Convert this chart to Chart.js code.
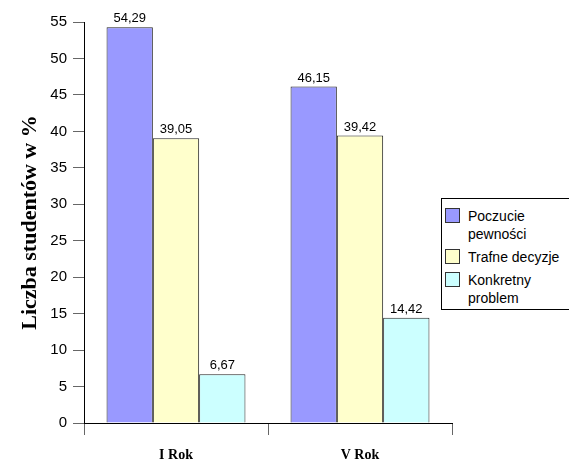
<!DOCTYPE html>
<html>
<head>
<meta charset="utf-8">
<script src="https://cdn.jsdelivr.net/npm/chart.js@4"></script>
<style>
  html, body { margin: 0; padding: 0; background: #fff; }
  #wrap { position: relative; width: 569px; height: 464px; overflow: hidden; }
  #legend {
    position: absolute; left: 441px; top: 198px; width: 140px; height: 112px;
    border: 1px solid #000; background: #fff; box-sizing: border-box;
    font: 14px 'Liberation Sans', Arial, sans-serif; color: #000;
  }
  .item { position: absolute; left: 26px; line-height: 18px; }
  .sw { position: absolute; left: -23px; top: 1px; width: 15px; height: 15px; border: 1px solid #333; box-sizing: border-box; }
</style>
</head>
<body>
<div id="wrap">
  <canvas id="chart" width="569" height="464"></canvas>
  <div id="legend"></div>
</div>
<script>
const CATEGORIES = ['I Rok', 'V Rok'];
const SERIES_NAMES = [['Poczucie', 'pewności'], ['Trafne decyzje'], ['Konkretny', 'problem']];
const POCZUCIE  = [54.29, 46.15];
const TRAFNE    = [39.05, 39.42];
const KONKRETNY = [6.67, 14.42];
const COLORS = ['#9999FF', '#FFFFCC', '#CCFFFF'];
const Y_TITLE = 'Liczba studentów w %';

const valueLabels = {
  id: 'valueLabels',
  afterDatasetsDraw(chart) {
    const ctx = chart.ctx;
    ctx.save();
    ctx.font = "13px 'Liberation Sans', Arial, sans-serif";
    ctx.fillStyle = '#000';
    ctx.textAlign = 'center';
    ctx.textBaseline = 'bottom';
    chart.data.datasets.forEach((ds, i) => {
      chart.getDatasetMeta(i).data.forEach((bar, j) => {
        ctx.fillText(ds.data[j].toFixed(2).replace('.', ','), bar.x, bar.y - 2);
      });
    });
    ctx.restore();
  }
};

const datasets = [POCZUCIE, TRAFNE, KONKRETNY].map((d, i) => ({
  label: SERIES_NAMES[i].join(' '),
  data: d,
  backgroundColor: COLORS[i],
  borderColor: '#222',
  borderWidth: 1,
  categoryPercentage: 0.755,
  barPercentage: 1.0,
}));

new Chart(document.getElementById('chart'), {
  type: 'bar',
  data: { labels: CATEGORIES, datasets },
  options: {
    responsive: false,
    animation: false,
    layout: { padding: { top: 22, right: 117, left: 0, bottom: 0 } },
    plugins: { legend: { display: false }, tooltip: { enabled: false } },
    scales: {
      x: {
        grid: {
          drawOnChartArea: false, tickLength: 12,
          color: c => c.index === 2 ? 'rgba(0,0,0,0)' : '#666',
        },
        border: { color: '#000', width: 1 },
        ticks: { color: '#000', padding: 12, font: { family: "'Liberation Serif', 'Times New Roman', serif", size: 14, weight: 'bold' } },
        afterFit: s => { s.height = 41; },
      },
      y: {
        min: 0, max: 55,
        ticks: { stepSize: 5, color: '#000', padding: 6, font: { family: "'Liberation Sans', Arial, sans-serif", size: 15 } },
        grid: { drawOnChartArea: false, tickLength: 11, color: '#666' },
        border: { color: '#000', width: 1 },
        title: {
          display: true, text: Y_TITLE, color: '#000',
          padding: { top: 17, bottom: 0 },
          font: { family: "'Liberation Serif', 'Times New Roman', serif", size: 22, weight: 'bold' },
        },
        afterFit: s => { s.width = 84; },
      },
    },
  },
  plugins: [valueLabels],
});

// legend with wrapped names
const legend = document.getElementById('legend');
const tops = [8, 49, 72];
SERIES_NAMES.forEach((lines, i) => {
  const el = document.createElement('div');
  el.className = 'item';
  el.style.top = tops[i] + 'px';
  el.innerHTML = '<span class="sw" style="background:' + COLORS[i] + '"></span>' + lines.join('<br>');
  legend.appendChild(el);
});
</script>
</body>
</html>
